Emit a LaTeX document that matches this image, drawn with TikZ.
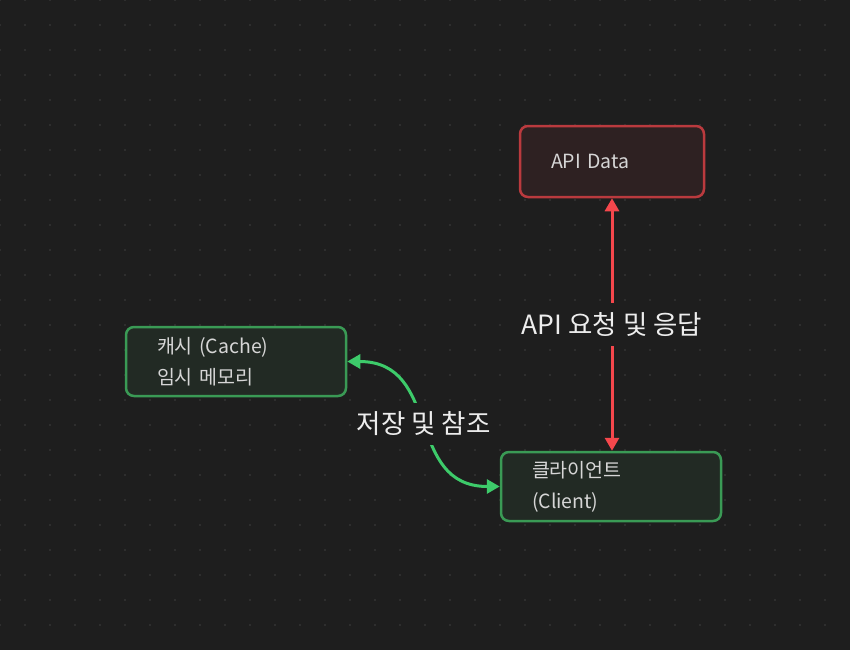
\documentclass[tikz,border=0pt]{standalone}
\usepackage{fontspec}
\setmainfont{Noto Sans CJK KR}
\usetikzlibrary{arrows.meta}
\definecolor{bg}{HTML}{1E1E1E}
\definecolor{dotc}{HTML}{2E2E2E}
\definecolor{redline}{HTML}{F5474C}
\definecolor{redborder}{HTML}{BA3A3E}
\definecolor{redfill}{HTML}{2E2122}
\definecolor{greenline}{HTML}{3DCB6A}
\definecolor{greenborder}{HTML}{3A9A55}
\definecolor{greenfill}{HTML}{222A24}
\definecolor{boxtext}{HTML}{D6D6D6}
\definecolor{lbltext}{HTML}{EDEDED}
\tikzset{
  boxbase/.style={rectangle, rounded corners=8pt, line width=2.5pt, inner xsep=31pt, inner ysep=0pt,
    align=left, text=boxtext, font=\fontsize{19.5}{31}\selectfont},
  redbox/.style={boxbase, draw=redborder, fill=redfill},
  greenbox/.style={boxbase, draw=greenborder, fill=greenfill},
  redarrow/.style={draw=redline, line width=3pt, {Triangle[length=13pt,width=14pt]}-{Triangle[length=13pt,width=14pt]}},
  greenarrow/.style={draw=greenline, line width=3pt, {Triangle[length=13pt,width=14pt]}-{Triangle[length=13pt,width=14pt]}},
  lbl/.style={fill=bg, text=lbltext, font=\fontsize{26.5}{30}\selectfont, inner xsep=4pt, inner ysep=9pt}
}
\begin{document}
\begin{tikzpicture}[x=1pt,y=-1pt]
\fill[bg] (0,0) rectangle (850,650);
\useasboundingbox (0,0) rectangle (850,650);
\foreach \i in {0,...,33} \foreach \j in {0,...,25} \fill[dotc] (\i*25-1,\j*25-1) rectangle ++(2,2);
\node[redbox, text width=122pt, minimum height=71pt] (api) at (612,161.5) {API Data};
\node[greenbox, text width=158pt, minimum height=69pt] (cache) at (236,361.5) {캐시 (Cache)\\임시 메모리};
\node[greenbox, text width=158pt, minimum height=69pt] (client) at (611,486.5) {\raisebox{-2pt}{클라이언트}\\\raisebox{-2pt}{(Client)}};
\draw[redarrow] (api.south) -- (api.south |- client.north) node[midway, lbl] (lblapi) {API 요청 및 응답};
\draw[greenarrow] (cache.east) .. controls +(95,0) and +(-95,0) .. (client.west) node[midway, lbl] (lblcache) {저장 및 참조};
\end{tikzpicture}
\end{document}
